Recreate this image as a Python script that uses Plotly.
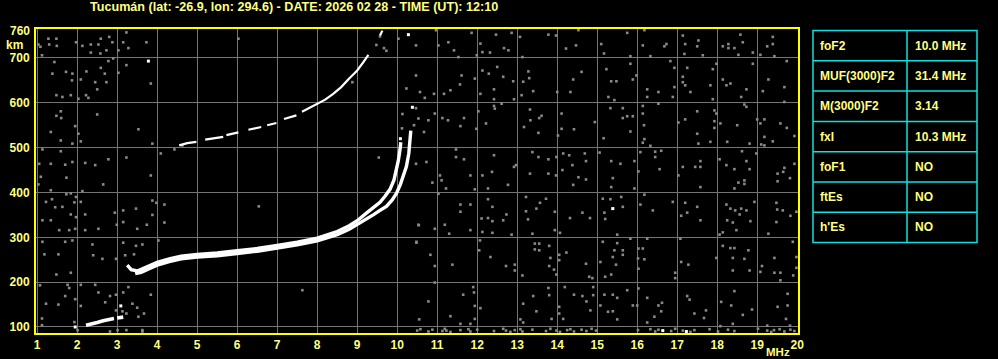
import plotly.graph_objects as go

# ---------------- data ----------------
# O-mode F trace (frequency MHz, virtual height km)
o_freq = [3.25, 3.35, 3.5, 3.7, 4.0, 4.3, 4.6, 5.0, 5.5, 6.0, 6.5, 7.0, 7.5, 8.0, 8.5, 8.8,
          9.0, 9.23, 9.4, 9.57, 9.7, 9.82, 9.92, 9.98, 10.03, 10.07, 10.09]
o_height = [238, 228, 225, 232, 244, 252, 258, 262, 265, 270, 275, 282, 289, 298, 313, 326,
            337, 354, 365, 378, 392, 407, 428, 450, 472, 495, 512]
# X-mode F trace
x_freq = [3.45, 3.6, 3.8, 4.0, 4.3, 4.6, 5.0, 5.5, 6.0, 6.5, 7.0, 7.5, 8.0, 8.5, 8.8,
          9.0, 9.2, 9.4, 9.57, 9.73, 9.87, 9.98, 10.08, 10.15, 10.23, 10.29, 10.32, 10.34]
x_height = [219, 222, 230, 238, 246, 252, 256, 259, 264, 269, 276, 283, 292, 306, 318,
            328, 339, 350, 360, 369, 383, 398, 418, 435, 458, 487, 510, 538]
# second-hop F trace (gaps as None)
f2_freq = [4.55, 4.75, 4.98, None, 5.2, 5.45, 5.65, None, 5.73, 5.9, 6.03, None, 6.28, 6.45, 6.6,
           None, 6.75, 6.98, None, 7.17, 7.48, None, 7.62, 7.8, 8.0, 8.2, 8.4, 8.6, 8.8, 9.0,
           9.15, 9.28, None, 9.57, 9.63]
f2_height = [505, 510, 513, None, 518, 521, 524, None, 528, 531, 534, None, 540, 543, 546,
             None, 550, 555, None, 564, 572, None, 580, 588, 597, 607, 620, 635, 654, 672,
             690, 707, None, 750, 761]
# low (E-region) trace
e_freq = [2.22, 2.35, 2.5, 2.65, 2.8, 2.92, None, 3.0, 3.15]
e_height = [104, 106, 110, 114, 117, 119, None, 120, 122]
# isolated strong echoes
spot_freq = [1.95, 3.09, 3.78, 10.28, 10.38, 10.08, 15.39, 16.64, 17.23]
spot_height = [100, 147, 693, 752, 590, 520, 364, 92, 90]

# background noise echoes
noise_freq = [
    1.28, 1.48, 1.03, 1.3, 1.08, 1.49, 1.97, 2.13, 2.34, 2.53, 2.59, 2.8, 2.88, 3.15, 3.23, 3.28,
    3.03, 2.73, 2.58, 2.34, 3.73, 1.12, 1.43, 1.38, 1.72, 1.88, 1.87, 2.09, 2.23, 2.45, 2.59, 2.69,
    2.73, 2.78, 2.9, 3.03, 3.23, 3.84, 2.5, 1.48, 1.63, 1.84, 2.03, 2.22, 2.28,
    1.59, 1.48, 1.6, 2.5, 1.95, 1.34, 2.03, 1.59, 1.88, 2.09, 3.53, 3.88, 1.13, 1.59, 1.05, 1.34,
    1.7, 1.88, 2.2, 2.45, 2.78, 3.23, 1.09, 1.73, 2.65, 3.84, 4.09, 4.43, 1.03,
    1.34, 1.37, 1.22, 1.73, 1.84, 1.97, 2.09, 2.13, 1.93, 1.45, 1.63, 1.13, 1.34, 1.84, 1.97, 2.2,
    1.8, 1.55, 1.95, 2.2, 2.53, 2.94, 3.15, 3.47, 3.88, 3.88, 3.74, 3.5, 3.15, 4.18, 4.18, 3.98, 2.99,
    1.13, 1.7, 1.88, 2.38, 3.15, 3.47, 3.63, 4.03, 1.18, 1.53, 2.4, 2.63, 2.97, 3.2, 3.42, 1.48,
    1.84, 1.07, 1.76, 2.09, 2.45, 1.8, 1.22, 1.53, 1.7, 1.95, 2.09, 2.53, 2.7, 2.82, 2.97, 3.15,
    3.28, 3.38, 3.5, 3.84, 3.23, 3.67, 3.53, 1.12, 1.12, 1.93, 2.01, 3.01, 3.23, 3.63, 3.13, 2.97,
    2.82, 3.63, 4.63,
    6.03, 6.54, 7.63, 9.54, 9.57, 9.48, 9.67, 9.73, 8.88, 10.13, 10.12, 10.48, 10.54,
    10.03, 10.47, 10.97, 11.03, 11.28, 11.42, 11.86, 12.08, 12.13, 12.32, 12.47, 12.67, 12.78,
    12.86, 13.07, 13.13, 13.78, 13.97, 14.22, 14.47, 14.53, 11.99, 11.53,
    10.47, 10.23, 10.57, 10.69, 10.92, 11.17, 11.33, 11.61, 11.57, 12.08, 11.94, 12.13, 12.29,
    12.5, 12.42, 12.65, 12.9, 13.15, 13.28, 13.3, 13.4, 13.11, 14.0, 14.33, 14.4, 14.61, 12.92,
    12.42, 12.61,
    10.47, 10.53, 10.78, 10.67, 10.42, 10.94, 11.13, 11.27, 11.67, 11.58, 12.03, 12.22, 11.98,
    12.44, 12.42, 13.33, 13.17, 13.55, 13.61, 13.32, 13.53, 14.11, 14.11, 14.42, 14.02, 14.94,
    10.47, 10.73, 11.07, 11.11, 10.88, 11.22, 11.47, 11.47, 11.67, 11.94, 11.83, 12.13, 12.37,
    12.42, 12.27, 12.77, 12.92, 12.97, 13.32, 13.38, 13.53, 13.78, 13.78, 13.98, 13.97, 14.15,
    14.3, 14.38, 14.13, 14.53, 14.4, 14.69, 14.72, 14.72,
    11.03, 10.53, 10.94, 11.19, 11.58, 11.83, 11.58, 11.83, 11.3, 12.27, 12.38, 12.27, 12.38,
    12.11, 12.65, 12.73, 12.13, 12.38, 12.86, 13.22, 13.57, 13.72, 13.48, 13.27, 13.38, 13.22,
    13.94, 14.32, 14.63, 14.82, 14.07, 13.94,
    10.48, 10.83, 10.94, 11.38, 12.07, 12.05, 12.33, 12.72, 12.94, 12.94, 13.13, 13.44, 13.55,
    13.44, 13.55, 13.8, 13.83, 13.8, 13.92, 13.98, 14.05, 14.05, 14.23, 14.72, 14.8, 14.88,
    10.94, 10.78, 11.65, 11.9, 11.92, 11.94, 12.08, 11.33, 11.58, 11.83, 11.94, 13.4, 13.15,
    13.48, 13.78, 13.8, 14.19, 14.42, 14.63, 14.9, 14.9, 14.73, 14.83, 14.05, 14.15, 14.05,
    13.86, 13.08, 13.15, 10.55,
    15.1, 15.17, 15.75, 15.83, 16.18, 16.14, 16.33, 16.73, 16.68, 17.14, 17.2, 17.18, 17.53,
    17.5, 17.64, 18.14, 18.28, 18.28, 18.43, 18.58, 18.64, 18.53, 18.89, 19.08, 19.25, 19.39,
    19.39, 19.43,
    15.83, 15.23, 15.35, 15.48, 15.89, 15.28, 15.43, 15.98, 16.25, 16.53, 16.25, 16.83, 16.93,
    16.93, 16.89, 17.14, 17.14, 17.2, 17.25, 17.33, 17.89, 17.98, 17.83, 17.89, 18.14, 18.33,
    18.23, 18.6, 18.73, 18.89, 19.14, 19.28, 19.68, 19.68, 19.74,
    15.33, 15.64, 15.75, 15.89, 15.64, 15.83, 15.16, 16.14, 16.14, 16.17, 16.18, 16.14, 16.33,
    16.53, 17.03, 17.2, 17.5, 17.93, 17.93, 17.93, 17.98, 17.83, 17.5, 17.53, 18.08, 18.25,
    18.5, 18.73, 18.68, 18.81, 19.0, 19.08, 19.18, 19.58, 19.74, 19.93, 19.18, 19.39, 19.1, 19.18,
    15.06, 15.35, 15.58, 15.93, 15.39, 15.35, 15.93, 16.08, 16.45, 16.6, 16.56, 16.45, 16.03,
    17.03, 17.14, 17.45, 17.58, 17.58, 17.58, 18.06, 18.23, 18.43, 18.62, 18.68, 18.68, 18.53,
    18.73, 18.81, 18.98, 18.43, 19.51, 19.51, 19.65, 19.82, 19.93, 19.68,
    15.14, 15.33, 15.39, 15.6, 15.64, 15.18, 15.2, 16.18, 16.08, 16.39, 16.89, 17.2, 17.25, 17.5,
    17.58, 17.1, 18.23, 18.33, 18.45, 18.6, 18.56, 18.73, 18.93, 18.83, 18.25, 18.39, 18.14,
    18.06, 18.48, 19.48, 19.5, 19.64, 19.83, 19.48, 19.28, 19.98,
    15.5, 16.25, 15.14, 15.5, 15.43, 15.64, 15.64, 15.39, 15.08, 15.47, 15.35, 15.2, 15.83, 16.02,
    16.03, 16.14, 16.18, 16.03, 17.08, 17.1, 17.28, 16.95, 16.95, 18.14, 18.33, 18.43, 17.98,
    18.39, 18.68, 18.78, 18.81, 18.39, 19.08, 19.12, 19.43, 19.43, 19.58, 19.58, 19.89, 19.98,
    19.98, 19.9,
    15.18, 15.08, 15.27, 15.39, 15.39, 15.5, 15.5, 15.75, 15.89, 16.0, 16.03, 16.25, 16.53, 16.62,
    16.6, 16.43, 16.25, 17.25, 17.31, 17.43, 17.72, 17.67, 18.1, 18.35, 18.43, 18.64, 18.87,
    18.39, 18.08, 19.51, 19.76, 19.76, 19.72, 19.25, 19.82,
    10.5, 10.58, 10.78, 10.88, 11.13, 11.19, 11.23, 11.33, 11.58, 11.78, 11.83, 12.0, 12.42,
    12.65, 12.72, 12.83, 12.94, 13.08, 13.13, 13.38, 13.72, 13.83, 13.98, 14.07, 14.25, 14.33,
    14.42, 14.61, 14.73, 14.86, 14.97, 16.02, 16.33, 16.45, 16.53, 16.85, 16.95, 17.14, 17.33,
    17.43, 17.81, 18.02, 18.27, 18.43, 19.02, 19.25, 19.35, 19.42, 19.56, 19.68, 19.83, 19.93,
]
noise_height = [
    743, 743, 730, 730, 725, 727, 735, 727, 730, 730, 743, 747, 735, 735, 757, 722,
    717, 717, 710, 712, 735, 706, 691, 665, 669, 665, 650, 652, 670, 646, 678, 665,
    646, 693, 699, 667, 684, 643, 630, 617, 613, 617, 609, 617, 611,
    581, 571, 566, 574, 548, 535, 531, 516, 509, 514, 541, 509, 496, 492, 464, 464,
    462, 468, 466, 461, 474, 478, 435, 433, 418, 438, 487, 496, 418,
    405, 385, 379, 396, 398, 390, 379, 403, 378, 367, 368, 338, 338, 351, 345, 351,
    316, 316, 319, 316, 319, 355, 360, 364, 382, 350, 328, 319, 334, 373, 333, 377, 328,
    290, 290, 293, 284, 288, 281, 284, 293, 262, 262, 260, 252, 252, 260, 262, 217,
    221, 193, 194, 194, 194, 187, 152, 150, 169, 162, 147, 177, 155, 169, 172, 177,
    189, 152, 143, 172, 130, 130, 123, 119, 104, 111, 93, 93, 93, 93, 135, 137,
    90, 90, 505,
    743, 369, 182, 478, 748, 729, 722, 716, 646, 575, 543, 288, 327,
    743, 728, 762, 728, 735, 717, 756, 732, 713, 712, 752, 722, 717,
    756, 747, 702, 752, 750, 721, 728, 762, 706, 702,
    661, 632, 624, 611, 620, 620, 628, 661, 641, 620, 654, 672, 665,
    680, 630, 658, 648, 647, 670, 655, 626, 617, 624, 624, 652, 669, 608,
    608, 598,
    588, 565, 561, 535, 550, 576, 566, 561, 566, 548, 581, 554, 542,
    587, 593, 561, 546, 566, 571, 585, 533, 576, 542, 541, 527, 557,
    464, 468, 438, 427, 422, 409, 496, 479, 474, 407, 438, 438, 446,
    483, 409, 417, 457, 461, 442, 490, 479, 474, 442, 479, 438, 487,
    483, 461, 450, 434, 417, 487, 470, 429,
    397, 328, 319, 328, 373, 373, 357, 316, 308, 385, 368, 343, 336,
    342, 338, 351, 312, 310, 306, 390, 377, 386, 364, 340, 308, 358,
    357, 343, 355, 343, 310, 316,
    290, 261, 236, 239, 293, 271, 256, 236, 239, 226, 215, 286, 286,
    273, 271, 281, 254, 236, 228, 217, 261, 249, 266, 241, 212, 209,
    199, 157, 172, 189, 177, 147, 142, 124, 107, 107, 118, 169, 152,
    135, 187, 171, 189, 172, 169, 189, 171, 157, 137, 145, 118, 130,
    118, 117, 110, 117,
    731, 710, 756, 704, 762, 728, 704, 731, 726, 750, 731, 709, 739,
    726, 706, 726, 731, 722, 722, 752, 735, 707, 712, 707, 726, 747,
    731, 704,
    687, 675, 648, 648, 652, 613, 606, 661, 630, 624, 613, 693, 678,
    635, 613, 658, 646, 639, 678, 624, 675, 687, 639, 608, 652, 643,
    639, 613, 630, 687, 626, 652, 635, 602, 693,
    588, 588, 570, 570, 566, 536, 521, 593, 576, 550, 519, 511, 504,
    598, 556, 563, 581, 583, 559, 544, 576, 513, 531, 509, 554, 513,
    550, 591, 596, 509, 563, 554, 563, 554, 544, 526, 524, 514, 507, 505,
    489, 470, 464, 470, 432, 412, 409, 490, 491, 493, 452, 479, 447,
    438, 457, 457, 470, 457, 412, 474, 461, 452, 492, 427, 419, 422,
    470, 452, 487, 409, 442, 425, 446, 432, 464, 455,
    386, 385, 364, 390, 368, 355, 341, 395, 373, 360, 379, 377, 355, 368,
    338, 348, 373, 364, 360, 364, 351, 360, 379, 336, 338, 333, 311,
    306, 316, 377, 362, 360, 348, 334, 308, 357,
    306, 297, 290, 287, 271, 271, 261, 256, 245, 239, 217, 212, 297, 253,
    275, 275, 251, 230, 297, 245, 239, 221, 209, 281, 276, 276, 254,
    254, 252, 271, 226, 226, 223, 236, 254, 221, 221, 204, 290, 256,
    232, 215,
    172, 148, 134, 135, 172, 165, 117, 182, 148, 148, 186, 165, 148, 154,
    135, 123, 110, 169, 161, 130, 137, 120, 156, 148, 180, 127, 139,
    107, 102, 145, 174, 148, 118, 103, 103,
    92, 95, 90, 94, 91, 96, 92, 89, 93, 95, 90, 94, 91,
    96, 92, 89, 93, 95, 90, 94, 91, 96, 92, 89, 93, 95,
    90, 94, 91, 96, 92, 93, 95, 90, 94, 91, 96, 92, 89,
    93, 95, 90, 94, 91, 96, 92, 89, 93, 95, 90, 94, 91,
]

freq_ticks = list(range(1, 21))
height_ticks = [100, 200, 300, 400, 500, 600, 700]

title_text = "Tucumán (lat: -26.9, lon: 294.6) - DATE: 2026 02 28 - TIME (UT): 12:10"
table_params = ["foF2", "MUF(3000)F2", "M(3000)F2", "fxI", "foF1", "ftEs", "h'Es"]
table_values = ["10.0 MHz", "31.4 MHz", "3.14", "10.3 MHz", "NO", "NO", "NO"]

# ---------------- styling / layout ----------------
W_TOT, H_TOT = 998, 359
L, R, T, B = 36, 200, 29, 26
PW, PH = W_TOT - L - R, H_TOT - T - B
TXT = "#ffff80"
YEL = "#ffff00"
GRID = "#747474"
NOISE = "#8a8a8a"
CYAN = "#10e0e0"
FONT = "Liberation Sans"


def px_x(px):
    return (px - L) / PW


def px_y(py):
    return (H_TOT - B - py) / PH


fig = go.Figure()

fig.add_trace(go.Scatter(x=noise_freq, y=noise_height, mode="markers",
                         marker=dict(symbol="square", size=2.6, color=NOISE, line=dict(width=0)),
                         hoverinfo="skip", showlegend=False))
for xs, ys, w in [(f2_freq, f2_height, 2.2), (e_freq, e_height, 3.6),
                  (x_freq, x_height, 3.4), (o_freq, o_height, 3.4)]:
    fig.add_trace(go.Scatter(x=xs, y=ys, mode="lines", connectgaps=False,
                             line=dict(color="white", width=w),
                             hoverinfo="skip", showlegend=False))
fig.add_trace(go.Scatter(x=spot_freq, y=spot_height, mode="markers",
                         marker=dict(symbol="square", size=3, color="white", line=dict(width=0)),
                         hoverinfo="skip", showlegend=False))

axis_common = dict(showgrid=True, gridcolor=GRID, gridwidth=1, zeroline=False,
                   showline=True, linecolor=YEL, linewidth=2, mirror=True, ticks="",
                   automargin=False,
                   tickfont=dict(family=FONT, size=12, color=TXT, weight="bold"))
fig.update_xaxes(range=[0.97, 20.02], tickvals=freq_ticks, ticktext=[str(v) for v in freq_ticks],
                 ticklabelstandoff=0, **axis_common)
fig.update_yaxes(range=[86.6, 764.6], tickvals=height_ticks,
                 ticktext=[str(v) for v in height_ticks], ticklabelstandoff=2, **axis_common)

annotations = [
    dict(text=title_text, x=px_x(294), y=px_y(7), xref="paper", yref="paper",
         showarrow=False, font=dict(family=FONT, size=12.6, color=TXT, weight="bold"),
         xanchor="center", yanchor="middle"),
    dict(text="760", x=px_x(32), y=px_y(31), xref="paper", yref="paper", showarrow=False,
         font=dict(family=FONT, size=12, color=TXT, weight="bold"), xanchor="right", yanchor="middle"),
    dict(text="km", x=px_x(14), y=px_y(45), xref="paper", yref="paper", showarrow=False,
         font=dict(family=FONT, size=12, color=TXT, weight="bold"), xanchor="center", yanchor="middle"),
    dict(text="MHz", x=px_x(792), y=px_y(352), xref="paper", yref="paper", showarrow=False,
         font=dict(family=FONT, size=11.5, color=TXT, weight="bold"), xanchor="right", yanchor="middle"),
]

shapes = []
tab_l, tab_m, tab_r = 813, 907, 977
tab_top, row_h = 30.5, 30.3
n_rows = len(table_params)
tab_bot = tab_top + n_rows * row_h
shapes.append(dict(type="rect", xref="paper", yref="paper", x0=px_x(tab_l), x1=px_x(tab_r),
                   y0=px_y(tab_bot), y1=px_y(tab_top), line=dict(color=CYAN, width=1.5)))
shapes.append(dict(type="line", xref="paper", yref="paper", x0=px_x(tab_m), x1=px_x(tab_m),
                   y0=px_y(tab_bot), y1=px_y(tab_top), line=dict(color=CYAN, width=1.5)))
for i in range(1, n_rows):
    yy = tab_top + i * row_h
    shapes.append(dict(type="line", xref="paper", yref="paper", x0=px_x(tab_l), x1=px_x(tab_r),
                       y0=px_y(yy), y1=px_y(yy), line=dict(color=CYAN, width=1.5)))
for i, (p, v) in enumerate(zip(table_params, table_values)):
    yc = tab_top + (i + 0.5) * row_h
    annotations.append(dict(text=p, x=px_x(818), y=px_y(yc), xref="paper", yref="paper",
                            showarrow=False, xanchor="left", yanchor="middle",
                            font=dict(family=FONT, size=12, color=TXT, weight="bold")))
    annotations.append(dict(text=v, x=px_x(913), y=px_y(yc), xref="paper", yref="paper",
                            showarrow=False, xanchor="left", yanchor="middle",
                            font=dict(family=FONT, size=12, color=TXT, weight="bold")))

fig.update_layout(width=W_TOT, height=H_TOT, margin=dict(l=L, r=R, t=T, b=B),
                  paper_bgcolor="black", plot_bgcolor="black",
                  annotations=annotations, shapes=shapes, showlegend=False)

fig.write_html("out.html")
